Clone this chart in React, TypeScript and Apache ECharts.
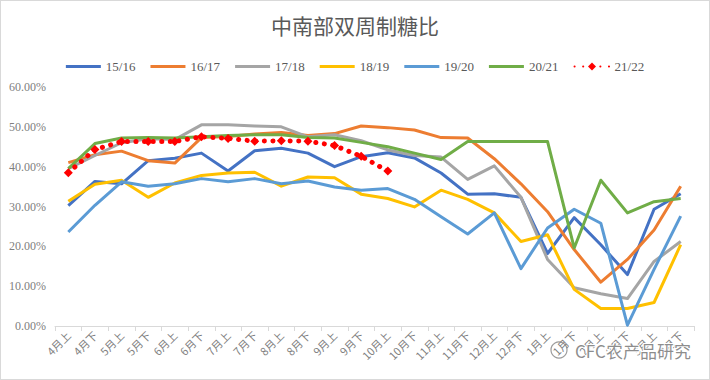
import React, { useEffect, useRef } from "react";
import * as echarts from "echarts";

const categories = ["4月上","4月下","5月上","5月下","6月上","6月下","7月上","7月下","8月上","8月下","9月上","9月下","10月上","10月下","11月上","11月下","12月上","12月下","1月上","1月下","2月上","2月下","3月上","3月下"];

const seriesNames = ["15/16", "16/17", "17/18", "18/19", "19/20", "20/21", "21/22"];

const s1516 = [30.2, 36.3, 35.7, 41.5, 42.1, 43.4, 38.9, 44.0, 44.6, 43.4, 40.0, 42.5, 43.5, 42.2, 38.4, 33.1, 33.2, 32.3, 18.2, 27.2, 20.4, 12.9, 29.3, 33.2];
const s1617 = [41.0, 43.0, 43.9, 41.5, 40.9, 47.3, 47.6, 48.2, 48.6, 47.8, 48.3, 50.2, 49.8, 49.2, 47.3, 47.2, 42.0, 35.7, 28.7, 19.2, 11.0, 16.7, 24.1, 35.1];
const s1718 = [39.5, 42.8, 46.0, 47.0, 46.8, 50.5, 50.5, 50.2, 50.0, 47.5, 48.0, 46.5, 44.2, 42.8, 42.4, 36.8, 40.2, 32.3, 16.7, 9.6, 8.1, 6.9, 16.2, 21.2];
const s1819 = [31.3, 35.6, 36.6, 32.3, 35.9, 37.8, 38.4, 38.6, 35.1, 37.4, 37.2, 33.1, 32.0, 29.9, 34.1, 31.8, 28.4, 21.2, 22.9, 9.2, 4.4, 4.4, 5.9, 20.4];
const s1920 = [23.6, 30.3, 36.2, 35.1, 35.7, 37.0, 36.2, 37.0, 35.7, 36.4, 34.9, 34.1, 34.5, 31.8, 27.4, 23.1, 28.4, 14.4, 24.6, 29.3, 25.8, 0.2, 14.2, 27.6];
const s2021 = [39.5, 45.8, 47.2, 47.3, 47.2, 47.5, 47.8, 48.0, 48.0, 47.3, 47.2, 46.1, 45.0, 43.4, 41.8, 46.3, 46.3, 46.3, 46.3, 19.6, 36.6, 28.4, 31.2, 32.0];
const s2122 = [38.5, 44.3, 46.3, 46.3, 46.3, 47.5, 47.1, 46.4, 46.5, 46.4, 45.3, 42.6, 38.9];

const yTicks = { min: 0, max: 60, interval: 10 };

const colors = ["#4472C4", "#ED7D31", "#A5A5A5", "#FFC000", "#5B9BD5", "#70AD47", "#FF0000"];

const lineIcon = "path://M0,0L35,0L35,3.2L0,3.2Z";

export default function App() {
  const ref = useRef<HTMLDivElement>(null);
  useEffect(() => {
    if (!ref.current) return;
    const chart = echarts.init(ref.current, null, { renderer: "svg" });
    const values = [s1516, s1617, s1718, s1819, s1920, s2021];
    const solidSeries = values.map((d, i) => ({
      name: seriesNames[i],
      type: "line",
      data: d,
      symbol: "none",
      lineStyle: { width: 3, color: colors[i], join: "round" },
      itemStyle: { color: colors[i] },
      z: 2 + i,
    }));
    const redSeries = {
      name: seriesNames[6],
      type: "line",
      data: s2122,
      symbol: "diamond",
      symbolSize: 9,
      showSymbol: true,
      lineStyle: { width: 5, color: colors[6], type: [0.1, 8.5], cap: "round" },
      itemStyle: { color: colors[6] },
      z: 10,
    };
    const legendData = seriesNames.map((n, i) => (i < 6 ? { name: n, icon: lineIcon } : { name: n }));
    chart.setOption({
      animation: false,
      color: colors,
      title: {
        text: "中南部双周制糖比",
        left: "center",
        top: 8,
        textStyle: { fontSize: 21, fontWeight: "normal", color: "#595959", fontFamily: "Noto Sans CJK SC" },
      },
      legend: {
        top: 54,
        left: "center",
        itemWidth: 35,
        itemHeight: 10,
        itemGap: 15,
        data: legendData,
        textStyle: { fontSize: 13, color: "#595959", fontFamily: "Liberation Serif" },
      },
      grid: { left: 54, right: 15, top: 86, bottom: 53 },
      xAxis: {
        type: "category",
        data: categories,
        boundaryGap: true,
        axisLine: { lineStyle: { color: "#D9D9D9", width: 1 } },
        axisTick: { show: true, length: 5, lineStyle: { color: "#D9D9D9" } },
        axisLabel: {
          rotate: 45,
          interval: 0,
          margin: 7,
          fontSize: 11,
          color: "#808080",
          fontFamily: "Noto Sans CJK SC",
        },
      },
      yAxis: {
        type: "value",
        min: yTicks.min,
        max: yTicks.max,
        interval: yTicks.interval,
        axisLine: { show: false },
        axisTick: { show: false },
        splitLine: { show: false },
        axisLabel: {
          formatter: (v: number) => v.toFixed(2) + "%",
          fontSize: 12,
          color: "#808080",
          fontFamily: "Liberation Serif",
          margin: 9,
        },
      },
      graphic: [
        {
          type: "circle",
          shape: { cx: 558, cy: 349, r: 8 },
          style: { fill: "none", stroke: "rgba(130,130,130,0.8)", lineWidth: 1.2 },
          z: 100,
        },
        {
          type: "text",
          left: 573,
          top: 340,
          style: {
            text: "CFC农产品研究",
            fontSize: 17,
            fill: "rgba(120,120,120,0.85)",
            stroke: "#ffffff",
            lineWidth: 2,
            fontFamily: "Noto Sans CJK SC",
          },
          z: 100,
        },
      ],
      series: [...solidSeries, redSeries],
    });
    return () => chart.dispose();
  }, []);
  return (
    <div
      ref={ref}
      style={{
        position: "fixed",
        left: 0,
        top: 0,
        width: 710,
        height: 380,
        boxSizing: "border-box",
        border: "1px solid #D9D9D9",
        background: "#fff",
      }}
    />
  );
}
